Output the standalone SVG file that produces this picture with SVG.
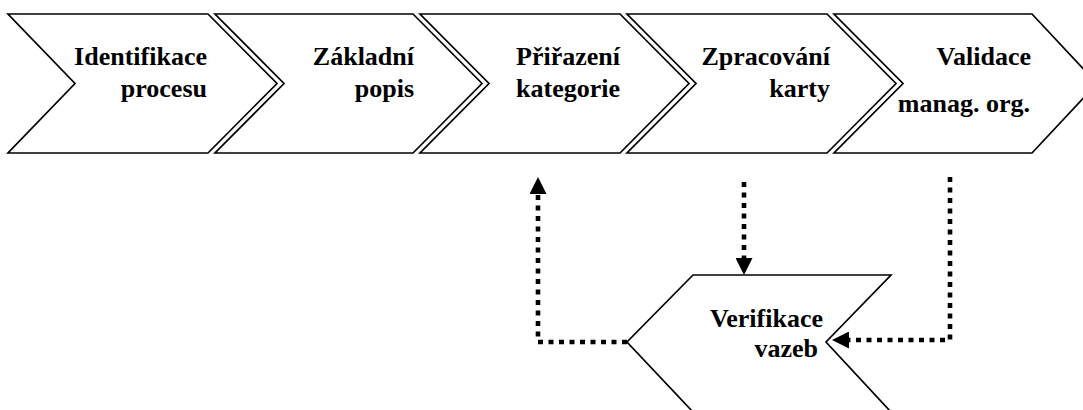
<svg xmlns="http://www.w3.org/2000/svg" width="1083" height="410" viewBox="0 0 1083 410">
<style>
.shape{fill:#fff;stroke:#000;stroke-width:1.7;stroke-linejoin:miter}
.lbl{font-family:"Liberation Serif","Times New Roman",serif;font-weight:bold;font-size:26px;fill:#000;text-anchor:end}
.conn{fill:none;stroke:#000;stroke-width:4.6;stroke-dasharray:5 5.5}
</style>
<defs>
<marker id="arr" markerUnits="userSpaceOnUse" markerWidth="17" markerHeight="17" refX="0" refY="8.5" orient="auto" viewBox="0 0 17 17">
<path d="M0,0 L17,8.5 L0,17 z" fill="#000"/>
</marker>
</defs>
<rect width="1083" height="410" fill="#fff"/>
<g id="n1">
<polygon class="shape" points="8,14 208,14 277,83.5 208,153 8,153 75,83.5"/>
<text class="lbl" x="207" y="65">Identifikace</text>
<text class="lbl" x="207" y="97">procesu</text>
</g>
<g id="n2">
<polygon class="shape" points="215,14 413,14 482,83.5 413,153 215,153 284,83.5"/>
<text class="lbl" x="414" y="65">Základní</text>
<text class="lbl" x="414" y="97">popis</text>
</g>
<g id="n3">
<polygon class="shape" points="420,14 620,14 689,83.5 620,153 420,153 489,83.5"/>
<text class="lbl" x="620" y="65">Přiřazení</text>
<text class="lbl" x="620" y="97">kategorie</text>
</g>
<g id="n4">
<polygon class="shape" points="627,14 827,14 896,83.5 827,153 627,153 696,83.5"/>
<text class="lbl" x="830" y="65">Zpracování</text>
<text class="lbl" x="830" y="97">karty</text>
</g>
<g id="n5">
<polygon class="shape" points="834,14 1032,14 1097,83.5 1032,153 834,153 903,83.5"/>
<text class="lbl" x="1031" y="65">Validace</text>
<text class="lbl" x="1030" y="112">manag. org.</text>
</g>
<g id="n6">
<polygon class="shape" points="693,275 891,275 826,342 891,412 693,412 627,342"/>
<text class="lbl" x="823" y="327">Verifikace</text>
<text class="lbl" x="818" y="357">vazeb</text>
</g>
<g id="connectors">
<path class="conn" d="M627,342 H538 V194" marker-end="url(#arr)"/>
<path class="conn" d="M744,182 V258" marker-end="url(#arr)"/>
<path class="conn" d="M950,177 V340 H849" marker-end="url(#arr)"/>
</g>
</svg>
